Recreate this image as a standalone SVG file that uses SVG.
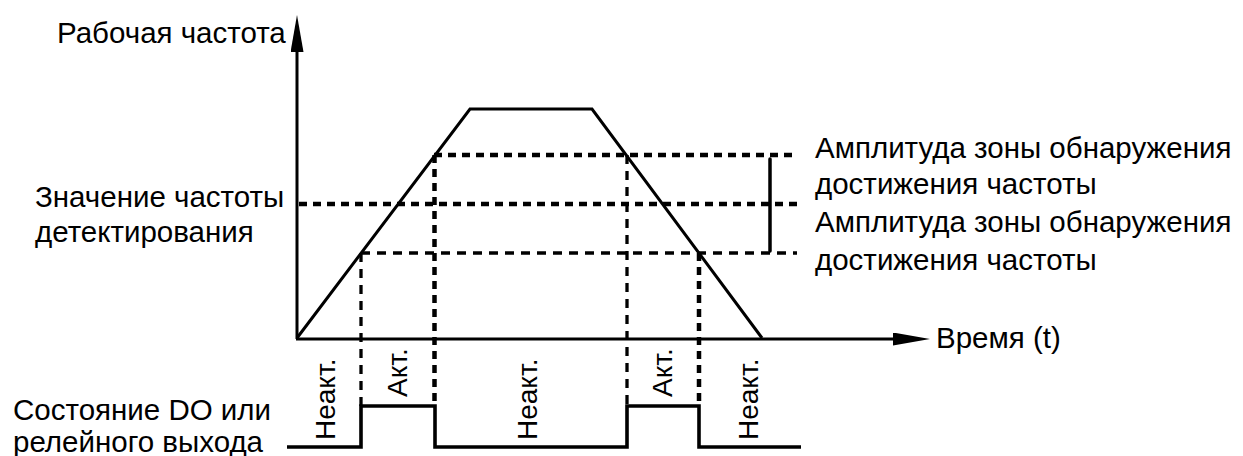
<svg xmlns="http://www.w3.org/2000/svg" width="1243" height="456" viewBox="0 0 1243 456">
  <style>
    .t { font-family: "Liberation Sans", Arial, sans-serif; font-size: 29.5px; fill: #000; }
    .r { font-family: "Liberation Sans", Arial, sans-serif; font-size: 28px; fill: #000; }
    .solid { fill: none; stroke: #000; stroke-width: 3; stroke-linejoin: miter; }
    .sig { fill: none; stroke: #000; stroke-width: 3.6; stroke-linejoin: miter; }
    .dk { fill: none; stroke: #000; stroke-width: 4.5; stroke-dasharray: 8 6; }
    .dt { fill: none; stroke: #000; stroke-width: 3.3; stroke-dasharray: 9 7; }
  </style>
  <defs>
    <marker id="arr" markerUnits="userSpaceOnUse" markerWidth="38" markerHeight="14" refX="0" refY="6.5" orient="auto">
      <path d="M0,0 L37,6.5 L0,13 z" fill="#000"/>
    </marker>
  </defs>
  <rect width="1243" height="456" fill="#fff"/>

  <g id="connectors">
    <line id="axis-y" class="solid" x1="297" y1="339" x2="297" y2="52" marker-end="url(#arr)"/>
    <line id="axis-x" class="solid" x1="296" y1="339" x2="893" y2="339" marker-end="url(#arr)"/>
    <polyline id="freq-curve" class="solid" points="297,338 470,109 592,109 762,338"/>
    <line class="dk" x1="434" y1="155" x2="797" y2="155"/>
    <line class="dk" x1="299" y1="204" x2="797" y2="204"/>
    <line class="dt" x1="361" y1="253" x2="797" y2="253"/>
    <line class="dt" x1="361" y1="253" x2="361" y2="406"/>
    <line class="dk" x1="434.5" y1="155" x2="434.5" y2="406"/>
    <line class="dt" x1="627" y1="155" x2="627" y2="406"/>
    <line class="dk" x1="699" y1="253" x2="699" y2="406"/>
    <line id="band" x1="770" y1="159" x2="770" y2="251" stroke="#000" stroke-width="3.5" stroke-linecap="round"/>
    <path id="do-signal" class="sig" d="M287,447 H361 V406 H435 V447 H627 V406 H699 V447 H801"/>
  </g>

  <g id="label-freq">
    <text class="t" x="57" y="43">Рабочая частота</text>
  </g>
  <g id="label-detect">
    <text class="t" x="35" y="207">Значение частоты</text>
    <text class="t" x="35" y="242">детектирования</text>
  </g>
  <g id="label-amp1">
    <text class="t" x="815" y="158">Амплитуда зоны обнаружения</text>
    <text class="t" x="815" y="194">достижения частоты</text>
  </g>
  <g id="label-amp2">
    <text class="t" x="815" y="232">Амплитуда зоны обнаружения</text>
    <text class="t" x="815" y="270">достижения частоты</text>
  </g>
  <g id="label-time">
    <text class="t" x="936" y="348">Время (t)</text>
  </g>
  <g id="label-do">
    <text class="t" x="13" y="420">Состояние DO или</text>
    <text class="t" x="13" y="452">релейного выхода</text>
  </g>
  <g id="states">
    <text class="r" x="335" y="440" transform="rotate(-90 335 440)">Неакт.</text>
    <text class="r" x="407" y="397" transform="rotate(-90 407 397)">Акт.</text>
    <text class="r" x="537" y="440" transform="rotate(-90 537 440)">Неакт.</text>
    <text class="r" x="672" y="397" transform="rotate(-90 672 397)">Акт.</text>
    <text class="r" x="758" y="440" transform="rotate(-90 758 440)">Неакт.</text>
  </g>
</svg>
